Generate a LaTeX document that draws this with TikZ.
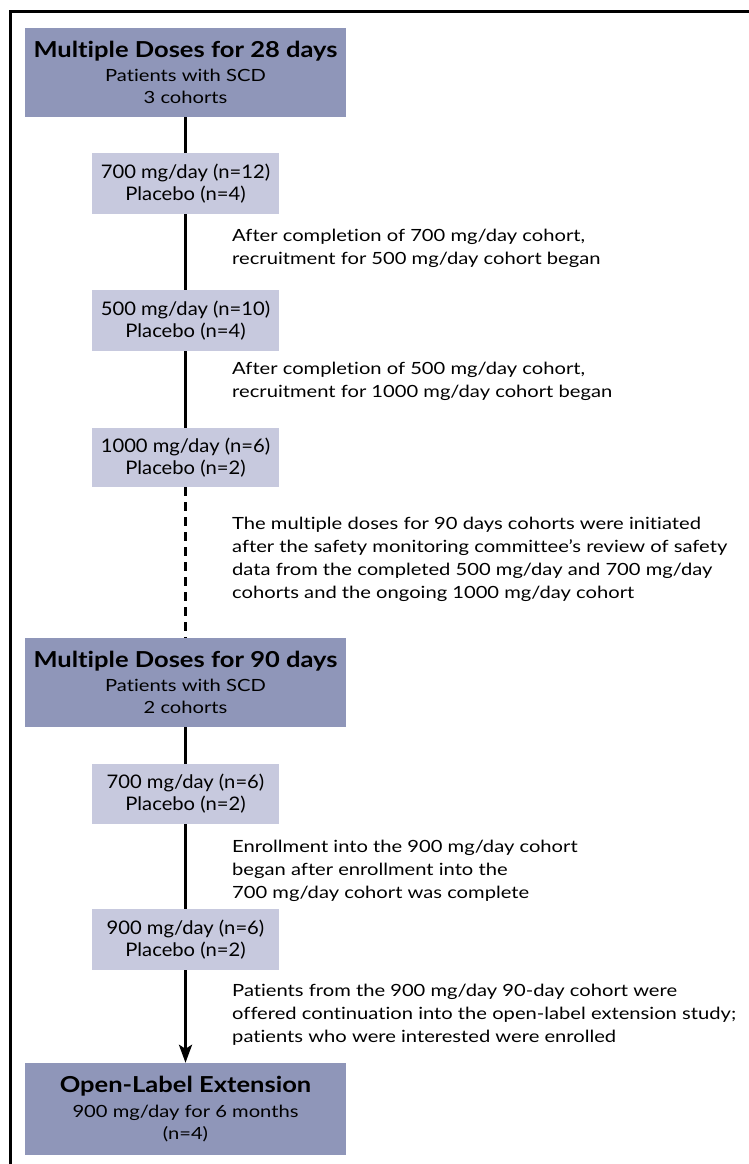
\documentclass[tikz,border=0pt]{standalone}
\usepackage{fontspec}
\setmainfont{Lato}[Ligatures={NoCommon}]
\newfontfamily\notefont{Lato}[FakeStretch=1.2,Ligatures={NoCommon}]
\newfontfamily\boxfont{Lato}[FakeStretch=1.08,Ligatures={NoCommon}]
\newfontfamily\titlefont{Lato}[FakeStretch=1.16,Ligatures={NoCommon}]
\usetikzlibrary{arrows.meta}
\definecolor{darkbox}{RGB}{143,150,185}
\definecolor{lightbox}{RGB}{199,201,222}
\tikzset{
  bigbox/.style={fill=darkbox, minimum width=321pt, minimum height=89pt, inner sep=0pt, align=center, font=\notefont\fontsize{16.8}{22}\selectfont},
  smallbox/.style={fill=lightbox, minimum width=187pt, minimum height=61pt, inner sep=0pt, align=center, font=\boxfont\fontsize{18.7}{22}\selectfont},
  note/.style={anchor=west, inner sep=0pt, align=left, font=\notefont\fontsize{16.8}{23}\selectfont},
  link/.style={line width=3pt}
}
\newcommand{\ttl}[1]{{\titlefont\fontsize{22}{26}\selectfont\bfseries #1}}
\begin{document}
\begin{tikzpicture}[x=1pt,y=-1pt]
\useasboundingbox (0,0) rectangle (749,1164);
\fill[white] (0,0) rectangle (749,1164);
\draw[line width=3pt] (10,1170) -- (10,12) -- (755,12);

\node[bigbox] (big1) at (185.5,72.5) {\ttl{Multiple Doses for 28 days}\\[2pt] Patients with SCD\\ 3 cohorts};
\node[smallbox] (s1) at (185.5,183.5) {700 mg/day (n=12)\\ Placebo (n=4)};
\node[smallbox] (s2) at (185.5,320.5) {500 mg/day (n=10)\\ Placebo (n=4)};
\node[smallbox, minimum height=59pt] (s3) at (185.5,457.5) {1000 mg/day (n=6)\\ Placebo (n=2)};
\node[bigbox] (big2) at (185.5,682.5) {\ttl{Multiple Doses for 90 days}\\[2pt] Patients with SCD\\ 2 cohorts};
\node[smallbox, minimum height=60pt] (s4) at (185.5,794) {700 mg/day (n=6)\\ Placebo (n=2)};
\node[smallbox] (s5) at (185.5,939.5) {900 mg/day (n=6)\\ Placebo (n=2)};
\node[bigbox, minimum height=92pt] (big3) at (185.5,1109) {\ttl{Open-Label Extension}\\[3pt] 900 mg/day for 6 months\\ (n=4)};

\node[note] (n1) at (232,248.5) {After completion of 700 mg/day cohort,\\ recruitment for 500 mg/day cohort began};
\node[note] (n2) at (232,381.5) {After completion of 500 mg/day cohort,\\ recruitment for 1000 mg/day cohort began};
\node[note] (n3) at (232,559) {The multiple doses for 90 days cohorts were initiated\\ after the safety monitoring committee’s review of safety\\ data from the completed 500 mg/day and 700 mg/day\\ cohorts and the ongoing 1000 mg/day cohort};
\node[note] (n4) at (232,871) {Enrollment into the 900 mg/day cohort\\ began after enrollment into the\\ 700 mg/day cohort was complete};
\node[note] (n5) at (232,1015) {Patients from the 900 mg/day 90-day cohort were\\ offered continuation into the open-label extension study;\\ patients who were interested were enrolled};

\draw[link] (big1.south) -- (s1.north);
\draw[link] (s1.south) -- (s2.north);
\draw[link] (s2.south) -- (s3.north);
\draw[link, dash pattern=on 9pt off 6pt] (s3.south) -- (big2.north);
\draw[link] (big2.south) -- (s4.north);
\draw[link] (s4.south) -- (s5.north);
\draw[link, -{Stealth[length=18pt,width=13pt,inset=4pt]}] (s5.south) -- (big3.north);
\end{tikzpicture}
\end{document}
